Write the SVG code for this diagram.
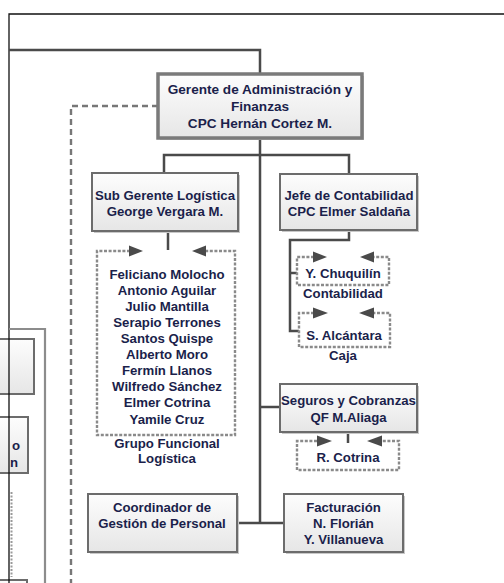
<svg xmlns="http://www.w3.org/2000/svg" width="504" height="583" viewBox="0 0 504 583">
<defs>
<linearGradient id="g" x1="0" y1="0" x2="0" y2="1">
<stop offset="0" stop-color="#fdfdfd"/>
<stop offset="1" stop-color="#e6e6e6"/>
</linearGradient>
<style>
.box{fill:url(#g);stroke:#6c6c6c;stroke-width:2}
.shadow{fill:#c8c8c8}
.t{font-family:"Liberation Sans",Arial,sans-serif;font-weight:bold;font-size:13.2px;fill:#1b1f4b;text-anchor:middle}
.conn{fill:none;stroke:#4a4a4a;stroke-width:2.5}
.dash{fill:none;stroke:#777;stroke-width:2.4;stroke-dasharray:6 4}
.team{fill:none;stroke:#8a8a8a;stroke-width:2.4;stroke-dasharray:3 1.6}
.arr{fill:#4a4a4a}
.frame{fill:none;stroke:#111;stroke-width:1.3}
.side{fill:none;stroke:#8c8c8c;stroke-width:2.2}
</style>
</defs>
<rect width="504" height="583" fill="#fff"/>

<g id="left-partial">
<rect x="-60" y="339" width="94" height="55" class="box"/>
<rect x="-60" y="417" width="88" height="56" class="box"/>
<rect x="-60" y="580" width="87" height="20" class="box"/>
<text class="t" x="20" y="450" style="text-anchor:end">o</text>
<text class="t" x="18" y="467" style="text-anchor:end">n</text>
<path d="M11.5,492 V577" fill="none" stroke="#9a9a9a" stroke-width="2" stroke-dasharray="2 1.5"/>
</g>

<g id="connectors">
<path class="frame" d="M504,14 H9 V583"/>
<path class="side" d="M9,329 H45 V583"/>
<path class="dash" d="M158,106 H71 V583"/>
<path class="conn" d="M9,50 H260 V74"/>
<path class="conn" d="M260,138 V523"/>
<path class="conn" d="M164,174 V155 H349 V174"/>
<path class="conn" d="M168,231 V250"/>
<path class="conn" d="M349,230 V240 H290 V331 H299"/>
<path class="conn" d="M290,273 H297"/>
<path class="conn" d="M260,407 H280"/>
<path class="conn" d="M348,432 V443"/>
<path class="conn" d="M237,523 H284"/>
</g>

<g id="gaf">
<rect x="160" y="76" width="204" height="64" class="shadow"/>
<rect x="158" y="74" width="204" height="64" fill="url(#g)" stroke="#7a7a7a" stroke-width="3.5"/>
<text class="t" x="260" y="94" style="font-size:13.6px">Gerente de Administración y</text>
<text class="t" x="260" y="111" style="font-size:13.6px">Finanzas</text>
<text class="t" x="260" y="128" style="font-size:13.6px">CPC Hernán Cortez M.</text>
</g>

<g id="sub-gerente">
<rect x="94" y="175" width="146" height="58" class="shadow"/>
<rect x="92" y="173" width="146" height="58" class="box"/>
<text class="t" x="165" y="200">Sub Gerente Logística</text>
<text class="t" x="165" y="216">George Vergara M.</text>
</g>

<g id="jefe-contabilidad">
<rect x="282" y="176" width="137" height="56" class="shadow"/>
<rect x="280" y="174" width="137" height="56" class="box"/>
<text class="t" x="349" y="200">Jefe de Contabilidad</text>
<text class="t" x="349" y="216">CPC Elmer Saldaña</text>
</g>

<g id="grupo-logistica">
<path class="team" d="M130,251 H97 V435 H235 V251 H205"/>
<polygon class="arr" points="129,245.5 143,251 129,256.5"/>
<polygon class="arr" points="206,245.5 192,251 206,256.5"/>
<text class="t" x="167" y="278.6">Feliciano Molocho</text>
<text class="t" x="167" y="294.7">Antonio Aguilar</text>
<text class="t" x="167" y="310.8">Julio Mantilla</text>
<text class="t" x="167" y="326.9">Serapio Terrones</text>
<text class="t" x="167" y="343">Santos Quispe</text>
<text class="t" x="167" y="359.1">Alberto Moro</text>
<text class="t" x="167" y="375.2">Fermín Llanos</text>
<text class="t" x="167" y="391.3">Wilfredo Sánchez</text>
<text class="t" x="167" y="407.4">Elmer Cotrina</text>
<text class="t" x="167" y="423.5">Yamile Cruz</text>
<text class="t" x="167" y="448">Grupo Funcional</text>
<text class="t" x="167" y="463">Logística</text>
</g>

<g id="chuquilin">
<path class="team" d="M314,257 H297 V285 H389 V257 H373"/>
<polygon class="arr" points="313,251.5 327,257 313,262.5"/>
<polygon class="arr" points="374,251.5 360,257 374,262.5"/>
<text class="t" x="343" y="278">Y. Chuquilín</text>
<text class="t" x="343" y="298">Contabilidad</text>
</g>

<g id="alcantara">
<path class="team" d="M314,313 H299 V347 H390 V313 H373"/>
<polygon class="arr" points="313,307.5 328,313 313,318.5"/>
<polygon class="arr" points="374,307.5 359,313 374,318.5"/>
<text class="t" x="344" y="340">S. Alcántara</text>
<text class="t" x="343" y="360">Caja</text>
</g>

<g id="seguros">
<rect x="282" y="386" width="137" height="48" class="shadow"/>
<rect x="280" y="384" width="137" height="48" class="box"/>
<text class="t" x="348.5" y="405">Seguros y Cobranzas</text>
<text class="t" x="348.5" y="422">QF M.Aliaga</text>
</g>

<g id="cotrina">
<path class="team" d="M317,441 H297 V470 H399 V441 H382"/>
<polygon class="arr" points="317,435.5 332,441 317,446.5"/>
<polygon class="arr" points="382,435.5 367,441 382,446.5"/>
<text class="t" x="348" y="462">R. Cotrina</text>
</g>

<g id="coordinador">
<rect x="90" y="496" width="149" height="58" class="shadow"/>
<rect x="88" y="494" width="149" height="58" class="box"/>
<text class="t" x="162" y="512">Coordinador de</text>
<text class="t" x="162" y="528">Gestión de Personal</text>
</g>

<g id="facturacion">
<rect x="286" y="496" width="119" height="58" class="shadow"/>
<rect x="284" y="494" width="119" height="58" class="box"/>
<text class="t" x="343.5" y="512">Facturación</text>
<text class="t" x="343.5" y="528">N. Florián</text>
<text class="t" x="343.5" y="544">Y. Villanueva</text>
</g>
</svg>
